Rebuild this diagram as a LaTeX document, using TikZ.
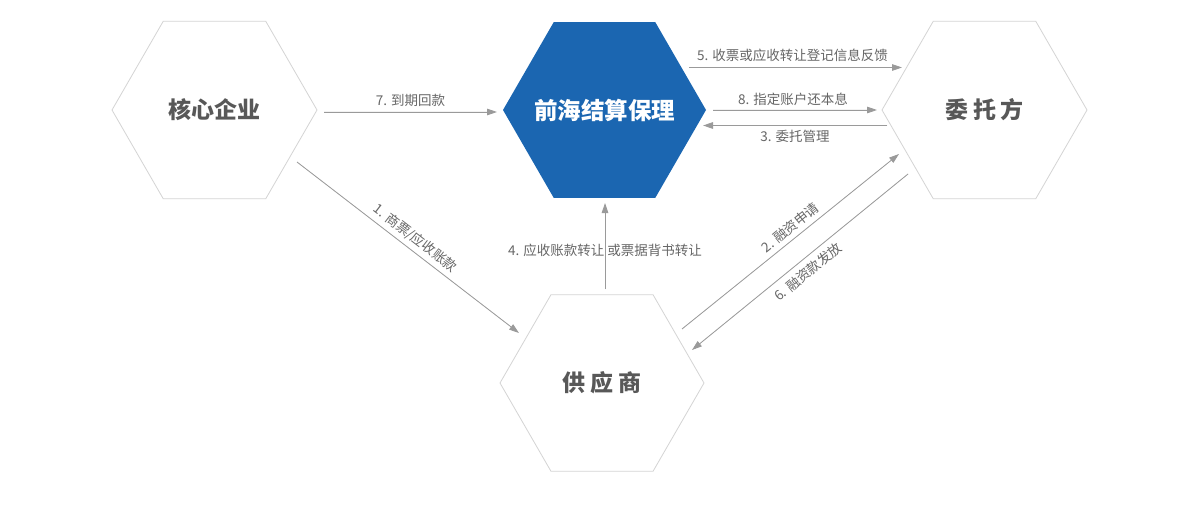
\documentclass[tikz,border=0pt]{standalone}
\usepackage{fontspec}
\setmainfont{Noto Sans CJK SC}
\usetikzlibrary{arrows.meta,shapes.geometric}
\definecolor{hexline}{HTML}{D4D4D4}
\definecolor{bluefill}{HTML}{1B66B1}
\definecolor{arrcol}{HTML}{9A9A9A}
\definecolor{lblcol}{HTML}{666666}
\definecolor{maincol}{HTML}{585858}
\begin{document}
\begin{tikzpicture}[x=1pt,y=-1pt,
  hex/.style={regular polygon, regular polygon sides=6, inner sep=0pt, draw=hexline, line width=0.8pt},
  hextext/.style={label={[text=maincol, font=\fontsize{23}{26}\selectfont\bfseries]center:#1}},
  bluehex/.style={regular polygon, regular polygon sides=6, inner sep=0pt, fill=bluefill, draw=none,
    label={[text=white, font=\fontsize{23.5}{26}\selectfont\bfseries]center:#1}},
  arr/.style={draw=arrcol, line width=0.8pt, -{Triangle[length=10pt,width=6.5pt]}, fill=arrcol},
  lbl/.style={text=lblcol, font=\fontsize{13.5}{16}\selectfont, inner sep=0pt}
]
\useasboundingbox (0,0) rectangle (1196,505);
\fill[white] (0,0) rectangle (1196,505);

\node[hex, minimum size=205pt, hextext={核心企业}] (core) at (214.5,110) {};
\node[bluehex={前海结算保理}, minimum size=203pt] (qh) at (604.5,110) {};
\node[hex, minimum size=205pt, hextext={委\hspace{5pt}托\hspace{5pt}方}] (wt) at (984.5,110) {};
\node[hex, minimum size=204pt, hextext={供\hspace{5pt}应\hspace{5pt}商}] (gy) at (602,383) {};

% 7
\coordinate (s7) at (324,112); \coordinate (e7) at (497,112);
\draw[arr] (s7) -- node[lbl, above=5pt] {7. 到期回款} (e7);
% 5
\coordinate (s5) at (689,67.5); \coordinate (e5) at (902,67.5);
\draw[arr] (s5) -- node[lbl, above=5.5pt, xshift=-3pt] {5. 收票或应收转让登记信息反馈} (e5);
% 8
\coordinate (s8) at (713,110); \coordinate (e8) at (877,110);
\draw[arr] (s8) -- node[lbl, above=4pt, xshift=-2pt] {8. 指定账户还本息} (e8);
% 3
\coordinate (s3) at (887,125.5); \coordinate (e3) at (703,125.5);
\draw[arr] (s3) -- node[lbl, below=4pt] {3. 委托管理} (e3);
% 4
\coordinate (s4) at (605,289); \coordinate (e4) at (605,203);
\draw[arr] (s4) -- node[lbl, pos=0.45] {4. 应收账款转让 或票据背书转让} (e4);
% 1
\coordinate (s1) at (297,162); \coordinate (e1) at (519,333);
\draw[arr] (s1) -- node[lbl, sloped, above=4.5pt, pos=0.5] {1. 商票/应收账款} (e1);
% 2
\coordinate (s2) at (682,329); \coordinate (e2) at (899,154);
\draw[arr] (s2) -- node[lbl, sloped, above=4.5pt, pos=0.53] {2. 融资申请} (e2);
% 6
\coordinate (s6) at (908,174); \coordinate (e6) at (692,350);
\draw[arr] (s6) -- node[lbl, sloped, below=6pt, pos=0.5] {6. 融资款发放} (e6);
\end{tikzpicture}
\end{document}
